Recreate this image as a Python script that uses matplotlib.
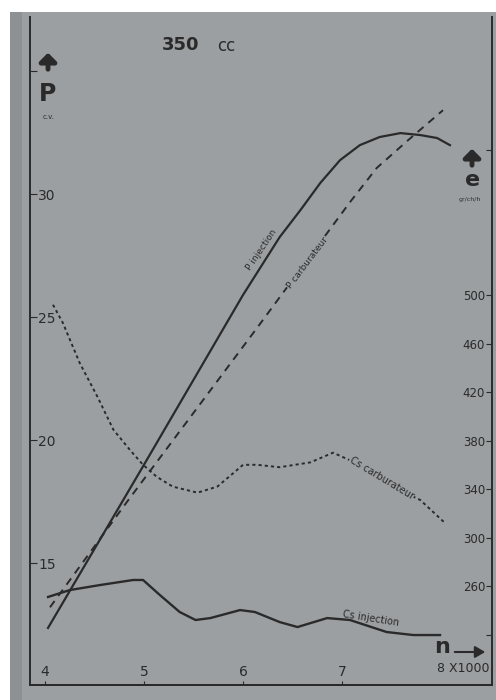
import matplotlib.pyplot as plt
from matplotlib.patches import Rectangle

# Datos (régimen x1000 tr/min)
rpm_p_inj = [4.03, 5.0, 6.0, 6.37, 6.58, 6.78, 6.98, 7.18, 7.38, 7.59, 7.79, 7.96, 8.09]
p_inj = [12.36, 19.0, 25.9, 28.25, 29.35, 30.45, 31.38, 31.99, 32.32, 32.48, 32.40, 32.28, 31.99]

rpm_p_carb = [4.05, 4.83, 6.14, 7.08, 7.35, 7.67, 8.02]
p_carb = [13.2, 17.5, 24.55, 29.67, 31.06, 32.2, 33.41]

rpm_cs_carb = [4.08, 4.18, 4.35, 4.53, 4.69, 4.86, 4.99, 5.13, 5.29, 5.54, 5.74,
               5.90, 6.0, 6.14, 6.37, 6.68, 6.91, 7.18, 7.48, 7.79, 8.04]
cs_carb = [492, 477, 444, 416, 389, 372, 360, 350, 342, 337, 342,
           353, 360, 360, 358, 362, 370, 360, 343, 331, 312]

rpm_cs_inj = [4.03, 4.25, 4.56, 4.89, 4.99, 5.16, 5.36, 5.52, 5.67, 5.97,
              6.12, 6.37, 6.55, 6.85, 7.08, 7.45, 7.72, 7.99]
cs_inj = [251, 256.7, 260.9, 265, 265, 252.6, 238.6, 232, 233.6, 240.2,
          238.6, 230.3, 226.2, 233.6, 232, 222.1, 219.6, 219.6]

x_ticks = [4, 5, 6, 7]
p_ticks = [15, 20, 25, 30, 35]
p_labels = ['15', '20', '25', '30', '']
cs_ticks = [220, 260, 300, 340, 380, 420, 460, 500, 620]
cs_labels = ['', '260', '300', '340', '380', '420', '460', '500', '']

gris = '#9c9fa2'
tinta = '#2a2a2a'

fig = plt.figure(figsize=(4.96, 7.0), dpi=100, facecolor='white')
fig.patches.append(Rectangle((10 / 496, 0), 1, 1 - 12 / 700, transform=fig.transFigure,
                             facecolor=gris, edgecolor='none', zorder=-10))
fig.patches.append(Rectangle((10 / 496, 0), 12 / 496, 1 - 12 / 700, transform=fig.transFigure,
                             facecolor='#8e9194', edgecolor='none', zorder=-9))

ax = fig.add_axes([30 / 496, 15 / 700, 462 / 496, 668 / 700])
ax.set_facecolor(gris)
ax.patch.set_alpha(0)
ax2 = ax.twinx()

ax.set_xlim(3.848, 8.515)
ax.set_ylim(10.04, 37.2)
ax2.set_ylim(178.4, 729.3)

# Curvas
ax.plot(rpm_p_inj, p_inj, color=tinta, lw=1.6)
ax.plot(rpm_p_carb, p_carb, color=tinta, lw=1.4, dashes=(4, 3.2))
ax2.plot(rpm_cs_carb, cs_carb, color=tinta, lw=1.4, dashes=(1.6, 1.6))
ax2.plot(rpm_cs_inj, cs_inj, color=tinta, lw=1.7)

# Ejes
for a in (ax, ax2):
    a.spines['top'].set_visible(False)
    for s in ('left', 'right', 'bottom'):
        a.spines[s].set_color(tinta)
        a.spines[s].set_linewidth(1.4)
ax.spines['right'].set_visible(False)
ax2.spines['left'].set_visible(False)

ax.set_xticks(x_ticks)
ax.set_xticklabels([str(v) for v in x_ticks])
ax.tick_params(axis='x', direction='in', length=3, pad=-4, labelsize=10, colors=tinta)
for lab in ax.get_xticklabels():
    lab.set_verticalalignment('bottom')

ax.set_yticks(p_ticks)
ax.set_yticklabels(p_labels)
ax.tick_params(axis='y', direction='in', length=5, pad=-6, labelsize=10, colors=tinta)
for lab in ax.get_yticklabels():
    lab.set_horizontalalignment('left')

ax2.set_yticks(cs_ticks)
ax2.set_yticklabels(cs_labels)
ax2.tick_params(axis='y', direction='in', length=4, pad=-5, labelsize=8.5, colors=tinta)
for lab in ax2.get_yticklabels():
    lab.set_horizontalalignment('right')

# Etiquetas de curvas
ax.text(6.22, 27.64, 'P injection', rotation=56, rotation_mode='anchor',
        ha='center', va='bottom', fontsize=6.5, color=tinta)
ax.text(6.65, 27.2, 'P carburateur', rotation=53, rotation_mode='anchor',
        ha='center', va='center', fontsize=6.5, color=tinta,
        bbox=dict(facecolor=gris, edgecolor='none', pad=0.5))
ax2.text(7.40, 349, 'Cs carburateur', rotation=-31, rotation_mode='anchor',
         ha='center', va='center', fontsize=7, color=tinta,
         bbox=dict(facecolor=gris, edgecolor='none', pad=0.5))
ax2.text(7.28, 229, 'Cs injection', rotation=-9, rotation_mode='anchor',
         ha='center', va='bottom', fontsize=7, color=tinta)

# Títulos y unidades
fig.text(162 / 496, 1 - 45 / 700, '350', fontsize=13, fontweight='bold',
         color=tinta, ha='left', va='center')
fig.text(217 / 496, 1 - 46 / 700, 'cc', fontsize=12, color=tinta, ha='left', va='center')

ax.annotate('', xy=(48, 700 - 50), xytext=(48, 700 - 72), xycoords='figure pixels',
            textcoords='figure pixels',
            arrowprops=dict(arrowstyle='-|>,head_width=0.5,head_length=0.5', lw=3.5, color=tinta))
fig.text(48 / 496, 1 - 94 / 700, 'P', fontsize=17, fontweight='bold', color=tinta,
         ha='center', va='center')
fig.text(49 / 496, 1 - 117 / 700, 'c.v.', fontsize=5, color=tinta, ha='center', va='center')

ax.annotate('', xy=(472, 700 - 146), xytext=(472, 700 - 168), xycoords='figure pixels',
            textcoords='figure pixels',
            arrowprops=dict(arrowstyle='-|>,head_width=0.5,head_length=0.5', lw=3.5, color=tinta))
fig.text(473 / 496, 1 - 180 / 700, 'e', fontsize=16, fontweight='bold', color=tinta,
         ha='center', va='center')
fig.text(470 / 496, 1 - 199 / 700, 'gr/ch/h', fontsize=4.5, color=tinta,
         ha='center', va='center')

fig.text(442 / 496, 1 - 647 / 700, 'n', fontsize=16, fontweight='bold', color=tinta,
         ha='center', va='center')
ax.annotate('', xy=(488, 700 - 652), xytext=(452, 700 - 652), xycoords='figure pixels',
            textcoords='figure pixels',
            arrowprops=dict(arrowstyle='-|>,head_width=0.35,head_length=0.6', lw=1.5, color=tinta))
fig.text(437 / 496, 1 - 669 / 700, '8 X1000', fontsize=9, color=tinta, ha='left', va='center')

fig.savefig('out.png', dpi=100, facecolor=fig.get_facecolor())
